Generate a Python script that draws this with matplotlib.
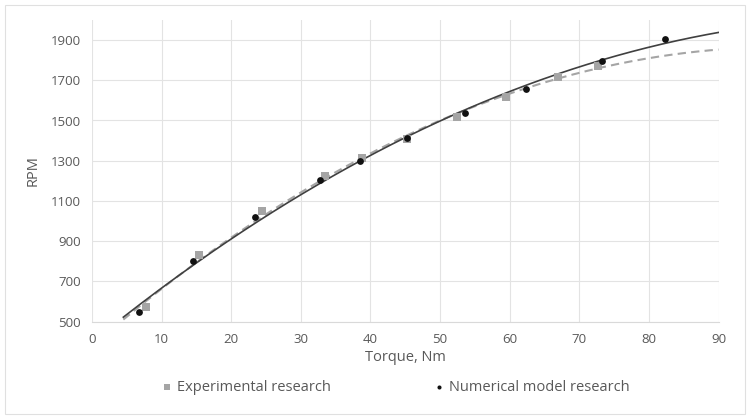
import numpy as np
import matplotlib
matplotlib.use("Agg")
import matplotlib.pyplot as plt
from matplotlib.patches import Rectangle

plt.rcParams['font.family'] = ['Open Sans', 'DejaVu Sans']

# measured points
exp_torque = [7.8, 15.4, 24.4, 33.5, 38.8, 45.2, 52.4, 59.5, 67.0, 72.7]
exp_rpm = [570, 830, 1048, 1222, 1312, 1406, 1517, 1619, 1717, 1771]
num_torque = [6.7, 14.5, 23.4, 32.8, 38.5, 45.3, 53.6, 62.4, 73.3, 82.3]
num_rpm = [546, 799, 1018, 1202, 1300, 1411, 1537, 1657, 1795, 1904]

xticks = list(range(0, 91, 10))
yticks = list(range(500, 2000, 200))

grey_txt = '#595959'
grid_c = '#E3E3E3'

fig = plt.figure(figsize=(7.49, 4.19), dpi=100)
fig.patches.append(Rectangle((5 / 749, 5 / 419), 740 / 749, 409 / 419,
                             transform=fig.transFigure, fill=False,
                             edgecolor='#E0E0E0', linewidth=0.8))
ax = fig.add_axes([92 / 749, 1 - 321.5 / 419, 626.5 / 749, 301.5 / 419])

# 2nd order trendlines, extended back to 4.5 and forward to 90
xs = np.linspace(4.5, 90, 200)
p_exp = np.polyfit(exp_torque, exp_rpm, 2)
p_num = np.polyfit(num_torque, num_rpm, 2)
ax.plot(xs, np.polyval(p_exp, xs), color='#A5A5A5', lw=1.5, ls=(0, (4, 2.5)), zorder=2)
ax.plot(xs, np.polyval(p_num, xs), color='#404040', lw=1.2, zorder=3)

ax.scatter(exp_torque, exp_rpm, marker='s', s=38, color='#A5A5A5', zorder=4,
           label='Experimental research', linewidths=0)
ax.scatter(num_torque, num_rpm, marker='o', s=24, color='#111111', zorder=5,
           label='Numerical model research', linewidths=0)

ax.set_xlim(0, 90)
ax.set_ylim(500, 2000)
ax.set_xticks(xticks)
ax.set_yticks(yticks)
ax.grid(True, color=grid_c, lw=0.8)
ax.set_axisbelow(True)
for s in ['top', 'right', 'left']:
    ax.spines[s].set_visible(False)
ax.spines['bottom'].set_color('#D9D9D9')
ax.spines['bottom'].set_linewidth(0.8)
ax.tick_params(length=0, labelsize=9.5, colors=grey_txt, pad=8)
ax.set_xlabel('Torque, Nm', fontsize=10.5, color=grey_txt, labelpad=3)
ax.set_ylabel('RPM', fontsize=10.5, color=grey_txt, labelpad=7)

leg = fig.legend(loc='center', bbox_to_anchor=(395 / 749, 1 - 387 / 419), ncol=2,
                 frameon=False, fontsize=10.5, handletextpad=0.3, columnspacing=7,
                 handlelength=0.8, markerscale=0.6)
for t in leg.get_texts():
    t.set_color(grey_txt)

fig.savefig('out.png', dpi=100)
